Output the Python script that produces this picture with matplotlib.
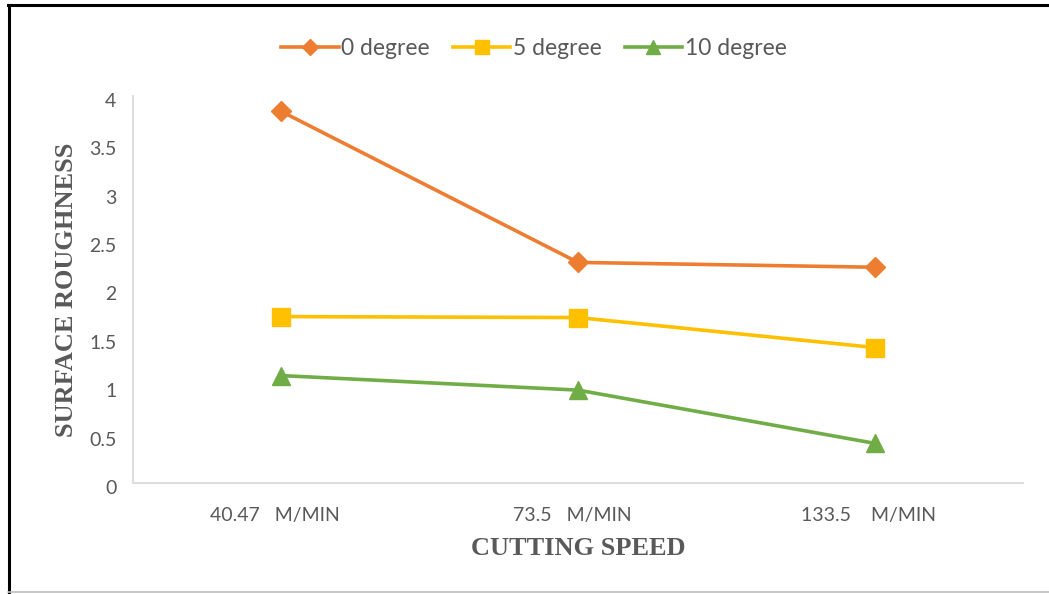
import matplotlib.pyplot as plt
from matplotlib.lines import Line2D
from matplotlib.transforms import ScaledTranslation

# cutting speed categories and surface roughness per rake angle
speeds = ['40.47   M/MIN', '73.5   M/MIN', '133.5    M/MIN']
deg0 = [3.84, 2.28, 2.23]
deg5 = [1.72, 1.71, 1.40]
deg10 = [1.11, 0.96, 0.41]
series_names = ['0 degree', '5 degree', '10 degree']

GRAY = '#595959'
plt.rcParams['font.family'] = ['Lato', 'DejaVu Sans']

fig = plt.figure(figsize=(10.49, 5.94), dpi=100)
ax = fig.add_axes([0.1268, 0.1869, 0.8484, 0.6515])

x = range(len(speeds))
ax.plot(x, deg0, color='#ED7D31', lw=2.6, marker='D', ms=10, label=series_names[0])
ax.plot(x, deg5, color='#FFC000', lw=2.6, marker='s', ms=12.5, label=series_names[1])
ax.plot(x, deg10, color='#70AD47', lw=2.6, marker='^', ms=13, label=series_names[2])

ax.set_xlim(-0.5, 2.5)
ax.set_ylim(0, 4)
ax.set_yticks([0, 0.5, 1, 1.5, 2, 2.5, 3, 3.5, 4])
ax.set_yticklabels(['0', '0.5', '1', '1.5', '2', '2.5', '3', '3.5', '4'])
ax.set_xticks(list(x))
ax.set_xticklabels(speeds)
ax.tick_params(length=0, labelsize=14, colors=GRAY)
ax.tick_params(axis='x', pad=17)
ax.tick_params(axis='y', pad=12)

# nudge y tick labels slightly downward
shift = ScaledTranslation(0, -4 / 100, fig.dpi_scale_trans)
for lbl in ax.get_yticklabels():
    lbl.set_transform(lbl.get_transform() + shift)
# x labels sit a little left of each category
shift_x = ScaledTranslation(-6 / 100, 0, fig.dpi_scale_trans)
for lbl in ax.get_xticklabels():
    lbl.set_transform(lbl.get_transform() + shift_x)

for side in ['top', 'right']:
    ax.spines[side].set_visible(False)
for side in ['left', 'bottom']:
    ax.spines[side].set_color('#D9D9D9')
    ax.spines[side].set_linewidth(1.3)

ax.set_xlabel('CUTTING SPEED', family='Liberation Serif', fontweight='bold',
              fontsize=19, color=GRAY, labelpad=10)
ax.set_ylabel('SURFACE ROUGHNESS', family='Liberation Serif', fontweight='bold',
              fontsize=19, color=GRAY, labelpad=8)

fig.legend(loc='center', bbox_to_anchor=(0.509, 0.919), ncol=3, frameon=False,
           fontsize=16.5, labelcolor=GRAY, handlelength=2.5, handletextpad=0.12,
           columnspacing=1.0, markerscale=0.8)

# outer frame
fig.add_artist(Line2D([0.0076, 1.0], [0.9916, 0.9916], color='black', lw=2.2))
fig.add_artist(Line2D([0.0086, 0.0086], [0.0034, 0.9916], color='black', lw=2.2))
fig.add_artist(Line2D([0.0076, 1.0], [0.003, 0.003], color='#BFBFBF', lw=1.2))

fig.savefig('out.png', dpi=100)
